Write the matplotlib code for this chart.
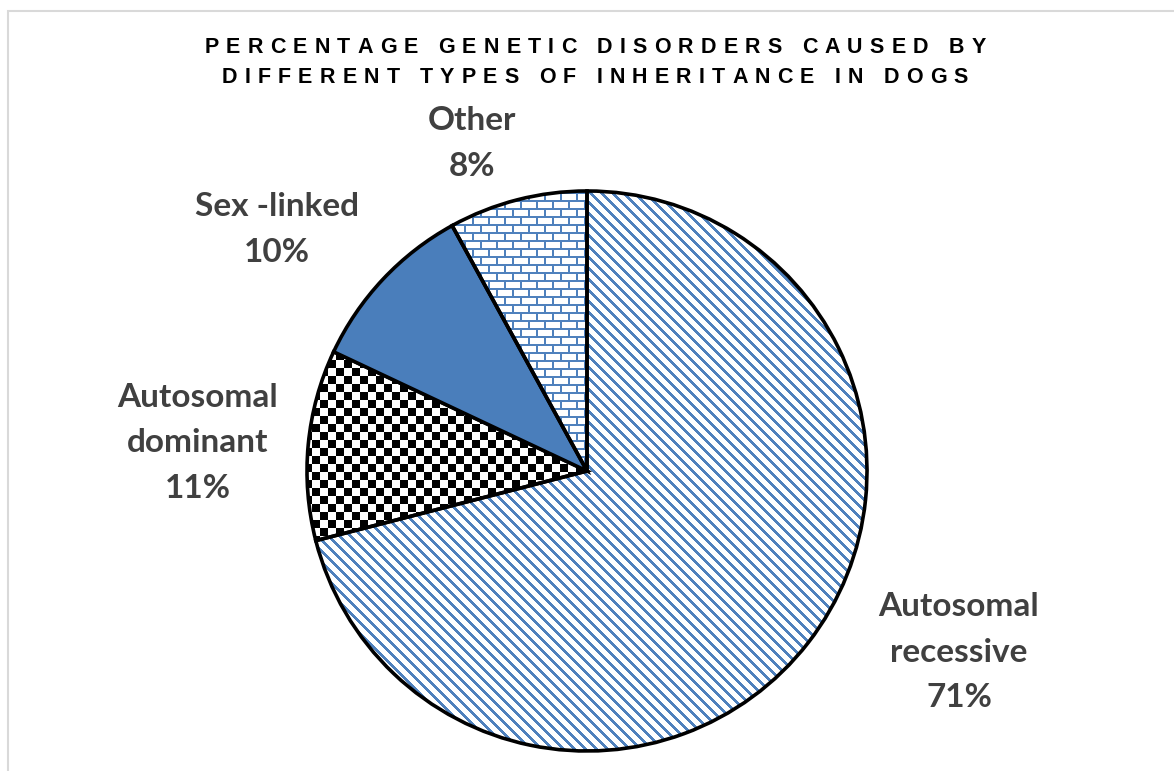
import numpy as np
import matplotlib
matplotlib.use("Agg")
import matplotlib.pyplot as plt
from matplotlib.font_manager import FontProperties, findfont
from matplotlib.ft2font import FT2Font

W, H = 1174, 771

labels = ["Autosomal\nrecessive", "Autosomal\ndominant", "Sex -linked", "Other"]
values = [71, 11, 10, 8]
title_lines = ["PERCENTAGE GENETIC DISORDERS CAUSED BY",
               "DIFFERENT TYPES OF INHERITANCE IN DOGS"]

# label anchor: centre x, first baseline (pixels from top)
label_pos = [(959, 616), (198, 407), (277, 216.5), (472, 130)]

blue = "#4A7EBB"
text_grey = "#404040"


def Y(py):
    return H - py


fig = plt.figure(figsize=(W / 100, H / 100), dpi=100)
ax = fig.add_axes([0, 0, 1, 1])

wedges, _ = ax.pie(values, startangle=90, counterclock=False,
                   center=(587, Y(471)), radius=280,
                   colors=["none", "none", blue, "none"],
                   wedgeprops=dict(edgecolor="black", linewidth=2.6, zorder=3))

# fill textures, built in screen pixels (row 0 = top)
Xp, Yp = np.meshgrid(np.arange(W), np.arange(H))
white = np.ones((H, W, 3))
sb = np.array(matplotlib.colors.to_rgb("#4F81BD"))

stripes = white.copy()
stripes[((Xp - Yp) % 11) < 4] = sb

checker = white.copy()
checker[((Xp // 8 + Yp // 8) % 2) == 0] = 0.0

bricks = white.copy()
row = Yp // 8
mortar = (Yp % 8 < 2) | (((Xp + (row % 2) * 8) % 16) < 2)
bricks[mortar] = sb

for idx, tex in [(0, stripes), (1, checker), (3, bricks)]:
    im = ax.imshow(tex, extent=(0, W, 0, H), origin="upper", zorder=1,
                   interpolation="nearest")
    im.set_clip_path(wedges[idx])

ax.set_xlim(0, W)
ax.set_ylim(0, H)
ax.set_aspect("equal")
ax.axis("off")

# slice labels
for lab, v, (cx, by) in zip(labels, values, label_pos):
    lines = lab.split("\n") + [f"{v}%"]
    for i, ln in enumerate(lines):
        ax.text(cx, Y(by + i * 45.5), ln, ha="center", va="baseline",
                fontsize=24, fontweight="bold", family="Lato", color=text_grey)

# letter-spaced title
tsize = 15.5
tfp = FontProperties(family="Liberation Sans", weight="bold", size=tsize)
ft = FT2Font(findfont(tfp))
ft.set_size(tsize, 100)


def advances(s):
    out = []
    for ch in s:
        g = ft.load_char(ord(ch))
        out.append(g.linearHoriAdvance / 65536)
    return out


adv0 = advances(title_lines[0])
tracking = (781 - sum(adv0)) / (len(title_lines[0]) - 1)
for s, base in zip(title_lines, [52.7, 83.3]):
    adv = advances(s)
    total = sum(adv) + tracking * (len(s) - 1)
    x = 595 - total / 2
    for ch, a in zip(s, adv):
        ax.text(x, Y(base), ch, ha="left", va="baseline",
                fontproperties=tfp, color="black")
        x += a + tracking

# light frame on the left and top
ax.plot([7.5, 7.5, W], [0, Y(10.5), Y(10.5)], color="#D9D9D9", lw=1.5,
        solid_joinstyle="miter")

fig.savefig("out.png", dpi=100)
